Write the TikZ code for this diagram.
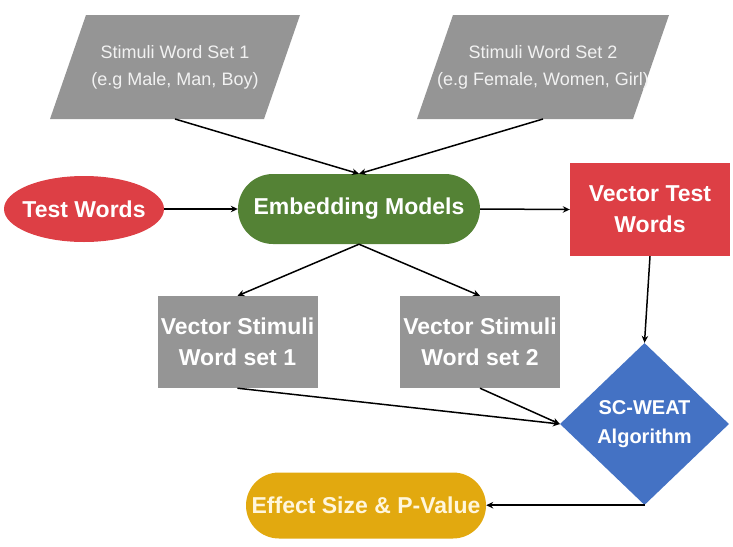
\documentclass[tikz,border=0pt]{standalone}
\usepackage{fontspec}
\setmainfont{Liberation Sans}
\usetikzlibrary{arrows.meta,shapes.geometric}
\definecolor{cgray}{HTML}{959595}
\definecolor{cred}{HTML}{DD3F45}
\definecolor{cgreen}{HTML}{548235}
\definecolor{cblue}{HTML}{4472C4}
\definecolor{cgold}{HTML}{E2A90F}
\definecolor{ctxtgold}{HTML}{FFF6DC}
\begin{document}
\begin{tikzpicture}[x=1pt,y=-1pt,
  bigtxt/.style={font=\fontsize{23}{31}\selectfont\bfseries, align=center},
  parafill/.style={fill=cgray},
  paratxt/.style={text=white!95!black, font=\fontsize{18}{27}\selectfont, align=center},
  graybox/.style={bigtxt, rectangle, fill=cgray, text=white, inner sep=0pt,
    minimum width=160pt, minimum height=92pt},
  arr/.style={-{Stealth[length=7pt,width=6.5pt]}, line width=1.5pt, black}
]
\useasboundingbox (0,0) rectangle (733,546);

% top parallelograms
\fill[parafill] (86,15) -- (300,15) -- (264,119) -- (50,119) -- cycle;
\node[paratxt] (p1) at (175,67) {Stimuli Word Set 1\\(e.g Male, Man, Boy)};
\coordinate (p1b) at (175,119);
\fill[parafill] (453,15) -- (669,15) -- (633,119) -- (417,119) -- cycle;
\node[paratxt] (p2) at (543,67) {Stimuli Word Set 2\\(e.g Female, Women, Girl)};
\coordinate (p2b) at (543,119);

% middle row
\node[bigtxt, ellipse, fill=cred, text=white, inner sep=-10pt,
  minimum width=160pt, minimum height=66pt] (tw) at (84,209) {Test Words};
\node[bigtxt, rectangle, rounded corners=35pt, fill=cgreen, text=white, inner sep=0pt,
  minimum width=242pt, minimum height=70pt] (em) at (359,209) {Embedding Models};
\node[bigtxt, rectangle, fill=cred, text=white, inner sep=0pt,
  minimum width=160pt, minimum height=93pt] (vtw) at (650,209.5) {Vector Test\\Words};

% vector stimuli
\node[graybox] (vs1) at (237.5,342) {Vector Stimuli\\Word set 1};
\node[graybox] (vs2) at (480,342) {Vector Stimuli\\Word set 2};

% diamond
\node[diamond, fill=cblue, text=white, inner sep=0pt, minimum width=169pt, minimum height=162pt,
  font=\fontsize{20}{29}\selectfont\bfseries, align=center] (dia) at (644.5,424) {SC-WEAT\\Algorithm};

% result
\node[bigtxt, rectangle, rounded corners=33pt, fill=cgold, text=ctxtgold, inner sep=0pt,
  minimum width=240pt, minimum height=66pt] (ef) at (366,505.5) {Effect Size \& P-Value};

% connectors
\draw[arr] (p1b) -- (em.north);
\draw[arr] (p2b) -- (em.north);
\draw[arr] (tw.east) -- (em.west);
\draw[arr] (em.east) -- (vtw.west);
\draw[arr] (em.south) -- (vs1.north);
\draw[arr] (em.south) -- (vs2.north);
\draw[arr] (vtw.south) -- (dia.north);
\draw[arr] (vs1.south) -- (dia.west);
\draw[arr] (vs2.south) -- (dia.west);
\draw[arr] (dia.south) -- (dia.south -| ef.east);
\end{tikzpicture}
\end{document}
